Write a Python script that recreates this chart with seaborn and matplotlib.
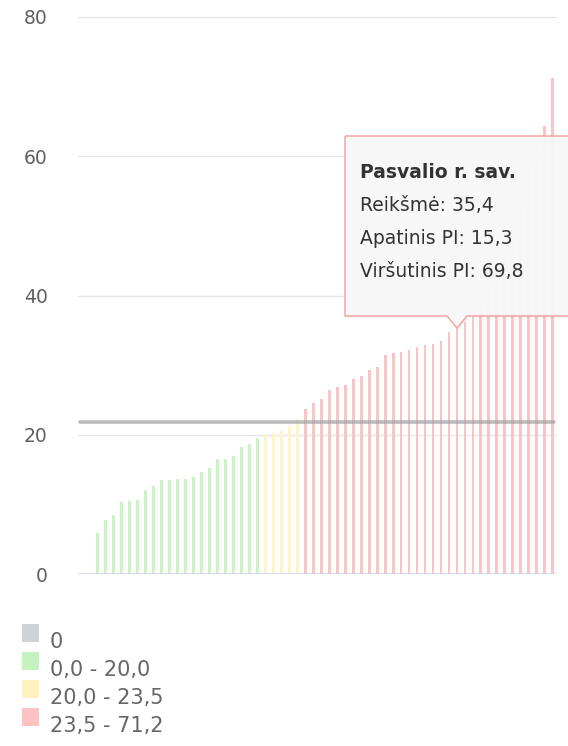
import numpy as np
import pandas as pd
import matplotlib
matplotlib.use("Agg")
import matplotlib.pyplot as plt
import seaborn as sns
from matplotlib.patches import Polygon, Rectangle

# ---- data ----
green_vals = [5.9, 7.8, 8.5, 10.4, 10.5, 10.6, 12.0, 12.6, 13.5, 13.5, 13.7,
              13.6, 14.0, 14.6, 15.2, 16.5, 16.5, 17.0, 18.3, 18.6, 19.5]
yellow_vals = [20.1, 20.2, 20.6, 21.2, 22.3]
red_vals = [23.7, 24.5, 25.1, 26.4, 26.8, 27.2, 28.0, 28.4, 29.3, 29.8, 31.5,
            31.7, 31.9, 32.2, 32.6, 32.9, 33.1, 33.5, 34.8, 35.4, 36.2, 37.0,
            38.5, 40.0, 41.5, 43.5, 46.0, 49.0, 53.0, 59.0, 64.3, 71.2]
reference_line = 21.9
legend_labels = ["0", "0,0 - 20,0", "20,0 - 23,5", "23,5 - 71,2"]
legend_colors = ["#cfd3d7", "#c4f3bf", "#fff2bf", "#ffc2c2"]
y_ticks = [0, 20, 40, 60, 80]
tooltip_title = "Pasvalio r. sav."
tooltip_lines = ["Reikšmė: 35,4", "Apatinis PI: 15,3", "Viršutinis PI: 69,8"]

values = green_vals + yellow_vals + red_vals
cats = (["g"] * len(green_vals) + ["y"] * len(yellow_vals) + ["r"] * len(red_vals))
df = pd.DataFrame({"idx": np.arange(len(values)), "val": values, "cat": cats})
palette = {"g": "#c8f5c2", "y": "#fff4c4", "r": "#fbc4c4"}

W, H = 568, 746
fig = plt.figure(figsize=(W / 100, H / 100), dpi=100)
sns.set_style("white")
plt.rcParams['font.family'] = ['DejaVu Sans']

def fx(x):
    return x / W

def fy(y):
    return 1 - y / H

ax_left, ax_right, ax_top, ax_bot = 78, 556, 17, 574
ax = fig.add_axes([fx(ax_left), fy(ax_bot), fx(ax_right) - fx(ax_left), fy(ax_top) - fy(ax_bot)])

sns.barplot(data=df, x="idx", y="val", hue="cat", palette=palette, dodge=False,
            width=0.36, legend=False, ax=ax, saturation=1, linewidth=0, zorder=2)

ax.set_xlim(-2.45, 57.4)
ax.set_ylim(0, 80)
ax.set_yticks(y_ticks)
ax.set_yticklabels([str(t) for t in y_ticks])
ax.set_xticks([])
ax.set_xlabel("")
ax.set_ylabel("")
for s in ax.spines.values():
    s.set_visible(False)
ax.tick_params(axis="y", length=0, pad=22, labelsize=13.5, labelcolor="#606060")
for t in y_ticks[1:]:
    ax.axhline(t, color="#e6e6e6", lw=1, zorder=1, clip_on=False)
ax.axhline(0, color="#ccd6eb", lw=1.2, zorder=3)
ax.axhline(reference_line, xmin=0.004, xmax=0.995, color="#a0a0a0", lw=2.6, alpha=0.7, zorder=4)

# ---- tooltip ----
bx0, bx1, by0, by1 = 345, 600, 136, 316
px, py = 457, 328
outline = [(bx0, by0), (bx1, by0), (bx1, by1), (px + 10, by1), (px, py), (px - 10, by1), (bx0, by1)]
shadow = [(fx(x + 1.5), fy(y + 1.5)) for x, y in outline]
fig.add_artist(Polygon(shadow, closed=True, transform=fig.transFigure,
                       facecolor="#000000", alpha=0.06, edgecolor="none", zorder=5))
pts = [(fx(x), fy(y)) for x, y in outline]
fig.add_artist(Polygon(pts, closed=True, transform=fig.transFigure,
                       facecolor="#f8f8f8", alpha=0.94, edgecolor="none", zorder=6))
fig.add_artist(Polygon(pts, closed=True, transform=fig.transFigure,
                       facecolor="none", edgecolor="#f2a7a7", lw=1.1, zorder=7))

tx = 360
fig.text(fx(tx), fy(178), tooltip_title, fontsize=13.5, fontweight="bold",
         color="#333333", va="baseline", ha="left", zorder=8)
for i, line in enumerate(tooltip_lines):
    fig.text(fx(tx), fy(211 + 33 * i), line, fontsize=13.5, color="#333333",
             va="baseline", ha="left", zorder=8)

# ---- legend ----
for i, (lab, col) in enumerate(zip(legend_labels, legend_colors)):
    top = 624 + 28 * i
    fig.add_artist(Rectangle((fx(22), fy(top + 18)), fx(39) - fx(22), fy(top) - fy(top + 18),
                             transform=fig.transFigure, facecolor=col, edgecolor="none", zorder=5))
    fig.text(fx(50), fy(top + 18), lab, fontsize=15, color="#666666",
             va="center", ha="left", zorder=6)

fig.savefig("out.png", dpi=100, facecolor="white")
